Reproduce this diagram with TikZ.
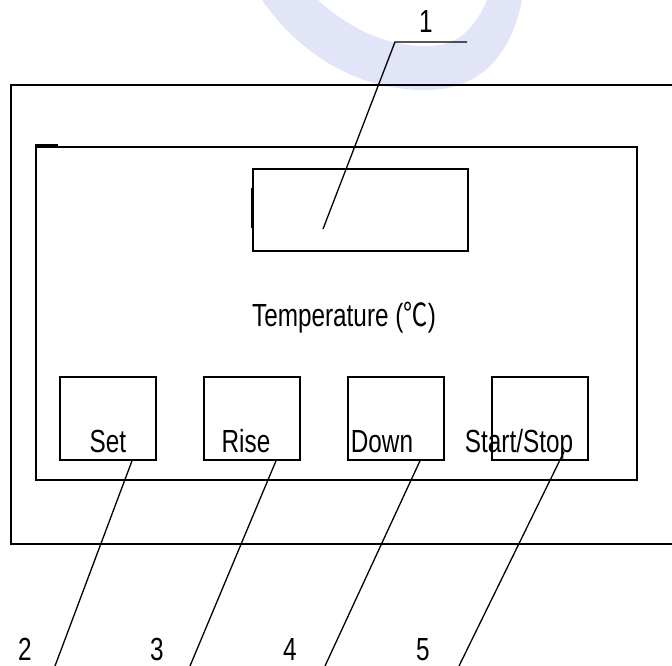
\documentclass[tikz,border=0pt]{standalone}
\usepackage{fontspec}
\newfontfamily\narrowfont[FakeStretch=0.76]{Liberation Sans}
\newfontfamily\cjkfont[FakeStretch=0.76]{Noto Sans CJK SC}
\usetikzlibrary{calc}
\definecolor{wmblue}{RGB}{226,229,248}
\tikzset{
  frame/.style={draw=black,line width=2pt},
  btn/.style={draw=black,line width=1.5pt,rectangle,minimum width=96pt,minimum height=83pt,inner sep=0pt,anchor=north west},
  leader/.style={draw=black,line width=1.3pt},
  lbl/.style={font=\narrowfont\fontsize{32}{38}\selectfont,inner sep=0pt,anchor=base},
}
\begin{document}
\begin{tikzpicture}[x=1pt,y=-1pt]
\useasboundingbox (0,0) rectangle (672,666);
% watermark
\fill[wmblue] (262,0) .. controls (300,55) and (360,92) .. (430,90) .. controls (485,88) and (512,50) .. (522,0) -- (487,0) .. controls (472,35) and (452,48) .. (420,46) .. controls (380,44) and (345,25) .. (318,0) -- cycle;
% outer housing (cut off at right)
\draw[frame] (672,85) -- (11,85) -- (11,544) -- (672,544);
% inner panel
\node[frame,rectangle,inner sep=0pt,minimum width=601pt,minimum height=333pt,anchor=north west] (panel) at (35,146) {};
\draw[line width=3pt] (35,146) -- (58,146);
% display
\node[draw=black,line width=1.5pt,rectangle,inner sep=0pt,minimum width=215pt,minimum height=82pt,anchor=north west] (disp) at (252,168) {};
\draw[line width=2.5pt] (252,188) -- (252,228);
% buttons
\node[btn] (bset) at (59,376) {};
\node[btn] (brise) at (203,376) {};
\node[btn] (bdown) at (347,376) {};
\node[btn] (bstart) at (491,376) {};
% texts
\node[lbl] (temp) at (344,326) {Temperature ({\cjkfont ℃})};
\node[lbl] (tset) at (108,452) {Set};
\node[lbl] (trise) at (246,452) {Rise};
\node[lbl] (tdown) at (382,452) {Down};
\node[lbl] (tstart) at (519,452) {Start/Stop};
% leader 1
\coordinate (p1) at (323,229);
\coordinate (k1) at (395,42);
\coordinate (e1) at (467,42);
\draw[leader] (p1) -- (k1) -- (e1);
\node[lbl] (n1) at (426,33) {1};
% leaders 2-5
\coordinate (s2) at ($(bset.south west)!0.75!(bset.south east)$);
\coordinate (s3) at ($(brise.south west)!0.75!(brise.south east)$);
\coordinate (s4) at ($(bdown.south west)!0.75!(bdown.south east)$);
\coordinate (s5) at ($(bstart.south west)!0.75!(bstart.south east)+(0,-9)$);
\coordinate (e2) at (55,666);
\coordinate (e3) at (190,666);
\coordinate (e4) at (325,666);
\coordinate (e5) at (459,666);
\draw[leader] (s2) -- (e2);
\draw[leader] (s3) -- (e3);
\draw[leader] (s4) -- (e4);
\draw[leader] (s5) -- (e5);
\node[lbl] (n2) at (25,660) {2};
\node[lbl] (n3) at (157,660) {3};
\node[lbl] (n4) at (290,660) {4};
\node[lbl] (n5) at (423,660) {5};
\end{tikzpicture}
\end{document}
